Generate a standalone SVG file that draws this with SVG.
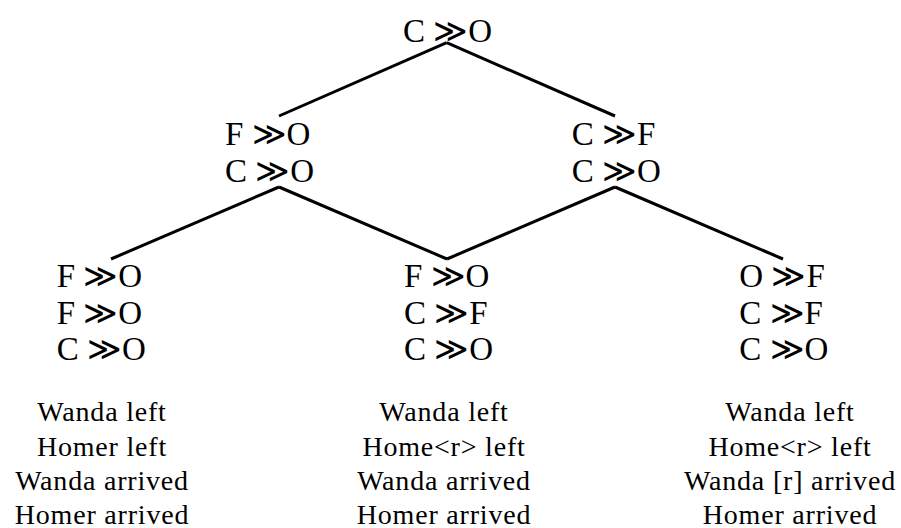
<svg xmlns="http://www.w3.org/2000/svg" width="901" height="528" viewBox="0 0 901 528">
<style>
.n{font-family:"Liberation Serif","DejaVu Serif",serif;font-size:33px;fill:#000}
.l{font-family:"Liberation Serif","DejaVu Serif",serif;font-size:28px;fill:#000;text-anchor:middle;letter-spacing:0.8px}
.c{stroke:#000;stroke-width:3;fill:none;stroke-linecap:butt}
</style>
<rect width="901" height="528" fill="#fff"/>
<g id="connectors" class="c">
<line x1="446.7" y1="42.7" x2="279" y2="116"/>
<line x1="446.7" y1="42.7" x2="615" y2="116"/>
<line x1="279" y1="187" x2="111" y2="259"/>
<line x1="279" y1="187" x2="447" y2="259"/>
<line x1="615" y1="187" x2="447" y2="259"/>
<line x1="615" y1="187" x2="783" y2="259"/>
</g>
<g id="node-root"><text class="n" x="403" y="41.5">C ≫O</text></g>
<g id="node-l1-left"><text class="n" x="225" y="145">F ≫O</text><text class="n" x="225" y="182">C ≫O</text></g>
<g id="node-l1-right"><text class="n" x="571.7" y="145">C ≫F</text><text class="n" x="571.7" y="182">C ≫O</text></g>
<g id="node-b-left"><text class="n" x="56.7" y="287">F ≫O</text><text class="n" x="56.7" y="324">F ≫O</text><text class="n" x="56.7" y="360">C ≫O</text></g>
<g id="node-b-mid"><text class="n" x="404" y="287">F ≫O</text><text class="n" x="404" y="324">C ≫F</text><text class="n" x="404" y="360">C ≫O</text></g>
<g id="node-b-right"><text class="n" x="739.3" y="287">O ≫F</text><text class="n" x="739.3" y="324">C ≫F</text><text class="n" x="739.3" y="360">C ≫O</text></g>
<g id="label-left"><text class="l" x="102" y="420.5">Wanda left</text><text class="l" x="102" y="455.5">Homer left</text><text class="l" x="102" y="490">Wanda arrived</text><text class="l" x="102" y="523.5">Homer arrived</text></g>
<g id="label-mid"><text class="l" x="444" y="420.5">Wanda left</text><text class="l" x="444" y="455.5">Home&lt;r&gt; left</text><text class="l" x="444" y="490">Wanda arrived</text><text class="l" x="444" y="523.5">Homer arrived</text></g>
<g id="label-right"><text class="l" x="790" y="420.5">Wanda left</text><text class="l" x="790" y="455.5">Home&lt;r&gt; left</text><text class="l" x="790" y="490">Wanda [r] arrived</text><text class="l" x="790" y="523.5">Homer arrived</text></g>
</svg>
